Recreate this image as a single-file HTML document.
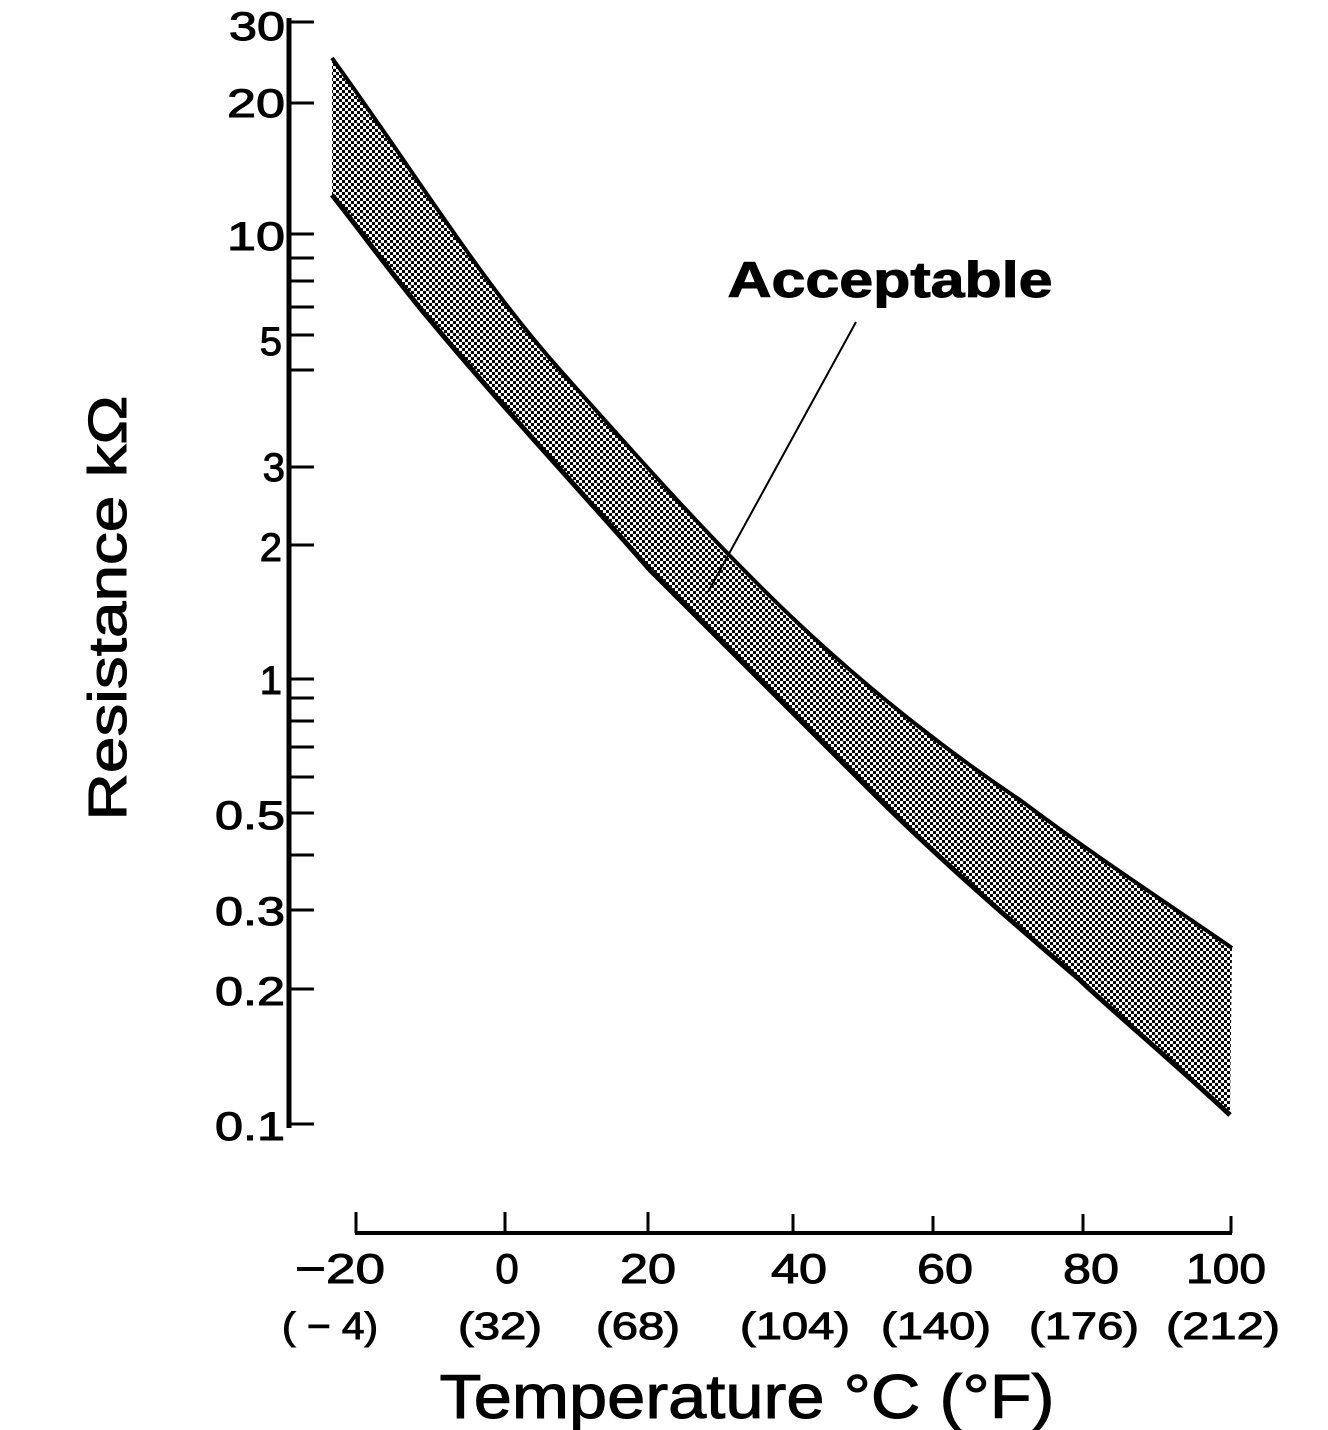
<!DOCTYPE html>
<html><head><meta charset="utf-8"><style>
html,body{margin:0;padding:0;background:#fff;}
svg{display:block;}
text{font-family:"Liberation Sans",sans-serif;fill:#000;stroke:#000;stroke-width:1;}
</style></head><body>
<svg width="1328" height="1430" viewBox="0 0 1328 1430" xmlns="http://www.w3.org/2000/svg">
<defs>
<pattern id="dots" width="6" height="6" patternUnits="userSpaceOnUse">
<rect x="0" y="0" width="3" height="3" fill="#000"/>
<rect x="3" y="3" width="3" height="3" fill="#000"/>
</pattern>
</defs>
<path d="M332,58 C420,180 480,280 560,370 C640,460 720,550 800,625 C880,700 960,760 1020,800 C1100,860 1170,905 1232,948 L1230,1115 C1160,1050 1100,1000 1080,980 C1010,920 940,860 870,790 C800,720 720,640 650,570 C580,490 505,410 430,320 C400,285 360,230 332,195 Z" fill="url(#dots)" stroke="none"/>
<path d="M332,58 C420,180 480,280 560,370 C640,460 720,550 800,625 C880,700 960,760 1020,800 C1100,860 1170,905 1232,948" fill="none" stroke="#000" stroke-width="4"/>
<path d="M332,195 C360,230 400,285 430,320 C505,410 580,490 650,570 C720,640 800,720 870,790 C940,860 1010,920 1080,980 C1100,1000 1160,1050 1230,1115" fill="none" stroke="#000" stroke-width="5"/>
<line x1="289" y1="18" x2="289" y2="1128" stroke="#000" stroke-width="5"/>
<g stroke="#000" stroke-width="3">
<line x1="289" y1="22" x2="314" y2="22"/>
<line x1="289" y1="103" x2="314" y2="103"/>
<line x1="289" y1="234" x2="314" y2="234"/>
<line x1="289" y1="258" x2="314" y2="258"/>
<line x1="289" y1="281" x2="314" y2="281"/>
<line x1="289" y1="307" x2="314" y2="307"/>
<line x1="289" y1="335" x2="314" y2="335"/>
<line x1="289" y1="370" x2="314" y2="370"/>
<line x1="289" y1="467" x2="314" y2="467"/>
<line x1="289" y1="545" x2="314" y2="545"/>
<line x1="289" y1="679" x2="314" y2="679"/>
<line x1="289" y1="698" x2="314" y2="698"/>
<line x1="289" y1="721" x2="314" y2="721"/>
<line x1="289" y1="747" x2="314" y2="747"/>
<line x1="289" y1="777" x2="314" y2="777"/>
<line x1="289" y1="813" x2="314" y2="813"/>
<line x1="289" y1="855" x2="314" y2="855"/>
<line x1="289" y1="910" x2="314" y2="910"/>
<line x1="289" y1="989" x2="314" y2="989"/>
<line x1="289" y1="1124" x2="314" y2="1124"/>
</g>
<g font-size="40" text-anchor="end">
<text x="285" y="40" textLength="56" lengthAdjust="spacingAndGlyphs">30</text>
<text x="285" y="117" textLength="58" lengthAdjust="spacingAndGlyphs">20</text>
<text x="285" y="250" textLength="58" lengthAdjust="spacingAndGlyphs">10</text>
<text x="282" y="355">5</text>
<text x="285" y="481">3</text>
<text x="282" y="561">2</text>
<text x="282" y="694">1</text>
<text x="285" y="829" textLength="70" lengthAdjust="spacingAndGlyphs">0.5</text>
<text x="285" y="925" textLength="70" lengthAdjust="spacingAndGlyphs">0.3</text>
<text x="285" y="1005" textLength="70" lengthAdjust="spacingAndGlyphs">0.2</text>
<text x="285" y="1140" textLength="70" lengthAdjust="spacingAndGlyphs">0.1</text>
</g>
<text transform="translate(126,608) rotate(-90)" font-size="54" text-anchor="middle" textLength="425" lengthAdjust="spacingAndGlyphs">Resistance kΩ</text>
<line x1="355" y1="1233" x2="1232" y2="1233" stroke="#000" stroke-width="4"/>
<g stroke="#000" stroke-width="3">
<line x1="356" y1="1212" x2="356" y2="1233"/>
<line x1="505" y1="1212" x2="505" y2="1233"/>
<line x1="648" y1="1212" x2="648" y2="1233"/>
<line x1="793" y1="1214" x2="793" y2="1233"/>
<line x1="933" y1="1216" x2="933" y2="1233"/>
<line x1="1083" y1="1214" x2="1083" y2="1233"/>
<line x1="1231" y1="1216" x2="1231" y2="1233"/>
</g>
<g font-size="42" text-anchor="middle">
<text x="340" y="1283" textLength="90" lengthAdjust="spacingAndGlyphs">−20</text>
<text x="507" y="1283">0</text>
<text x="648" y="1283" textLength="56" lengthAdjust="spacingAndGlyphs">20</text>
<text x="799" y="1283" textLength="56" lengthAdjust="spacingAndGlyphs">40</text>
<text x="945" y="1283" textLength="56" lengthAdjust="spacingAndGlyphs">60</text>
<text x="1091" y="1283" textLength="56" lengthAdjust="spacingAndGlyphs">80</text>
<text x="1226" y="1283" textLength="80" lengthAdjust="spacingAndGlyphs">100</text>
</g>
<g font-size="38" text-anchor="middle">
<text x="330" y="1339" textLength="96" lengthAdjust="spacingAndGlyphs">( − 4)</text>
<text x="500" y="1339" textLength="84" lengthAdjust="spacingAndGlyphs">(32)</text>
<text x="638" y="1339" textLength="84" lengthAdjust="spacingAndGlyphs">(68)</text>
<text x="795" y="1339" textLength="110" lengthAdjust="spacingAndGlyphs">(104)</text>
<text x="936" y="1339" textLength="110" lengthAdjust="spacingAndGlyphs">(140)</text>
<text x="1084" y="1339" textLength="110" lengthAdjust="spacingAndGlyphs">(176)</text>
<text x="1223" y="1339" textLength="114" lengthAdjust="spacingAndGlyphs">(212)</text>
</g>
<text x="747" y="1418" font-size="62" text-anchor="middle" textLength="615" lengthAdjust="spacingAndGlyphs">Temperature °C (°F)</text>
<text x="890" y="297" font-size="50" font-weight="bold" text-anchor="middle" textLength="325" lengthAdjust="spacingAndGlyphs">Acceptable</text>
<line x1="856" y1="322" x2="708" y2="592" stroke="#000" stroke-width="2"/>
</svg>
</body></html>
